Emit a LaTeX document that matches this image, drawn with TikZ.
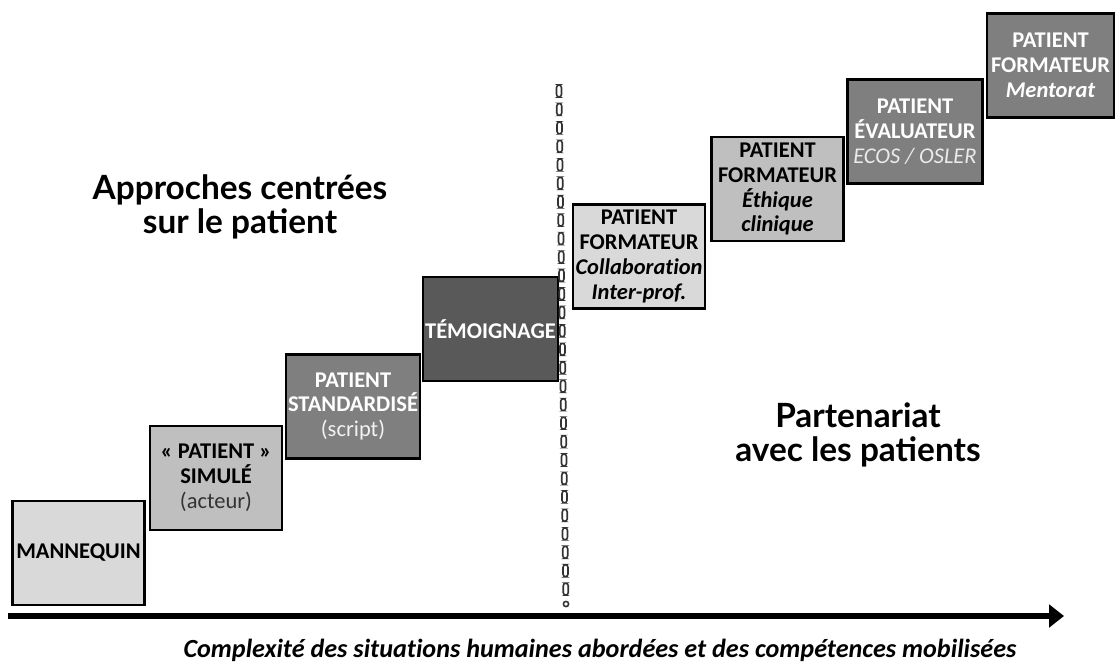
\documentclass[tikz,border=0pt]{standalone}
\usepackage{fontspec}
\setmainfont{Carlito}[Ligatures=NoCommon]
\newfontfamily\titlefont{Lato}
\usetikzlibrary{arrows.meta,positioning}
\definecolor{greyA}{HTML}{D9D9D9}
\definecolor{greyB}{HTML}{BFBFBF}
\definecolor{greyC}{HTML}{7F7F7F}
\definecolor{greyD}{HTML}{595959}
\tikzset{
  stage/.style={draw=black, line width=1.2pt, minimum width=2.64cm, minimum height=2.08cm,
    inner sep=1pt, align=center, font=\fontsize{12.8}{14.2}\selectfont\bfseries},
  light/.style={stage, fill=greyA},
  mid/.style={stage, fill=greyB},
  dark/.style={stage, fill=greyC, text=white},
  darker/.style={stage, fill=greyD, text=white},
  title/.style={font=\titlefont\fontsize{19}{19.5}\selectfont\bfseries, align=center},
  sepdash/.style={draw=black!80, fill=white, line width=0.9pt, rounded corners=1.5pt},
  axis/.style={-{Triangle[length=0.3cm, width=0.45cm]}, line width=2.9pt},
}
\begin{document}
\begin{tikzpicture}[x=0.02cm, y=-0.02cm]
  \useasboundingbox (0,0) rectangle (1115,664);

  % steps, patient centred side
  \node[light] (mannequin) at (78.5,553) {MANNEQUIN};
  \node[mid] (simule) at (216,478) {« PATIENT »\\SIMULÉ\\{\mdseries\color{black!80}(acteur)}};
  \node[dark] (standard) at (353,406.5) {PATIENT\\STANDARDISÉ\\{\mdseries\color{black!5}(script)}};
  \node[darker] (temoin) at (490.5,329) {TÉMOIGNAGE};

  % steps, partnership side
  \node[light] (interprof) at (639,256.5) {PATIENT\\FORMATEUR\\\itshape Collaboration\\\itshape Inter-prof.};
  \node[mid] (ethique) at (777.5,189) {PATIENT\\FORMATEUR\\\itshape Éthique\\\itshape clinique};
  \node[dark, minimum width=2.7cm] (evaluateur) at (915,131.5) {PATIENT\\ÉVALUATEUR\\{\mdseries\itshape\color{black!8}ECOS / OSLER}};
  \node[dark, minimum width=2.54cm] (mentorat) at (1050.5,65.5) {PATIENT\\FORMATEUR\\\itshape Mentorat};

  % separator
  \foreach \i in {0,...,27} {
    \pgfmathsetmacro\yy{85+18.45*\i}
    \pgfmathsetmacro\xx{559+7*\i/28}
    \draw[sepdash] (\xx-2.5,\yy) rectangle (\xx+2.5,\yy+12);
  }
  \draw[draw=black!80, fill=white, line width=0.9pt] (566,604) circle[radius=2.6];

  % titles
  \node[title] (lefttitle) at (240,207) {Approches centrées\\sur le patient};
  \node[title] (righttitle) at (858,435) {Partenariat\\avec les patients};

  % axis
  \coordinate (axstart) at (8,616);
  \coordinate (axend) at (1064,616);
  \draw[axis] (axstart) -- (axend);
  \node[font=\fontsize{14.9}{16}\selectfont\bfseries\itshape] (caption) at (600,650)
    {Complexité des situations humaines abordées et des compétences mobilisées};
\end{tikzpicture}
\end{document}
